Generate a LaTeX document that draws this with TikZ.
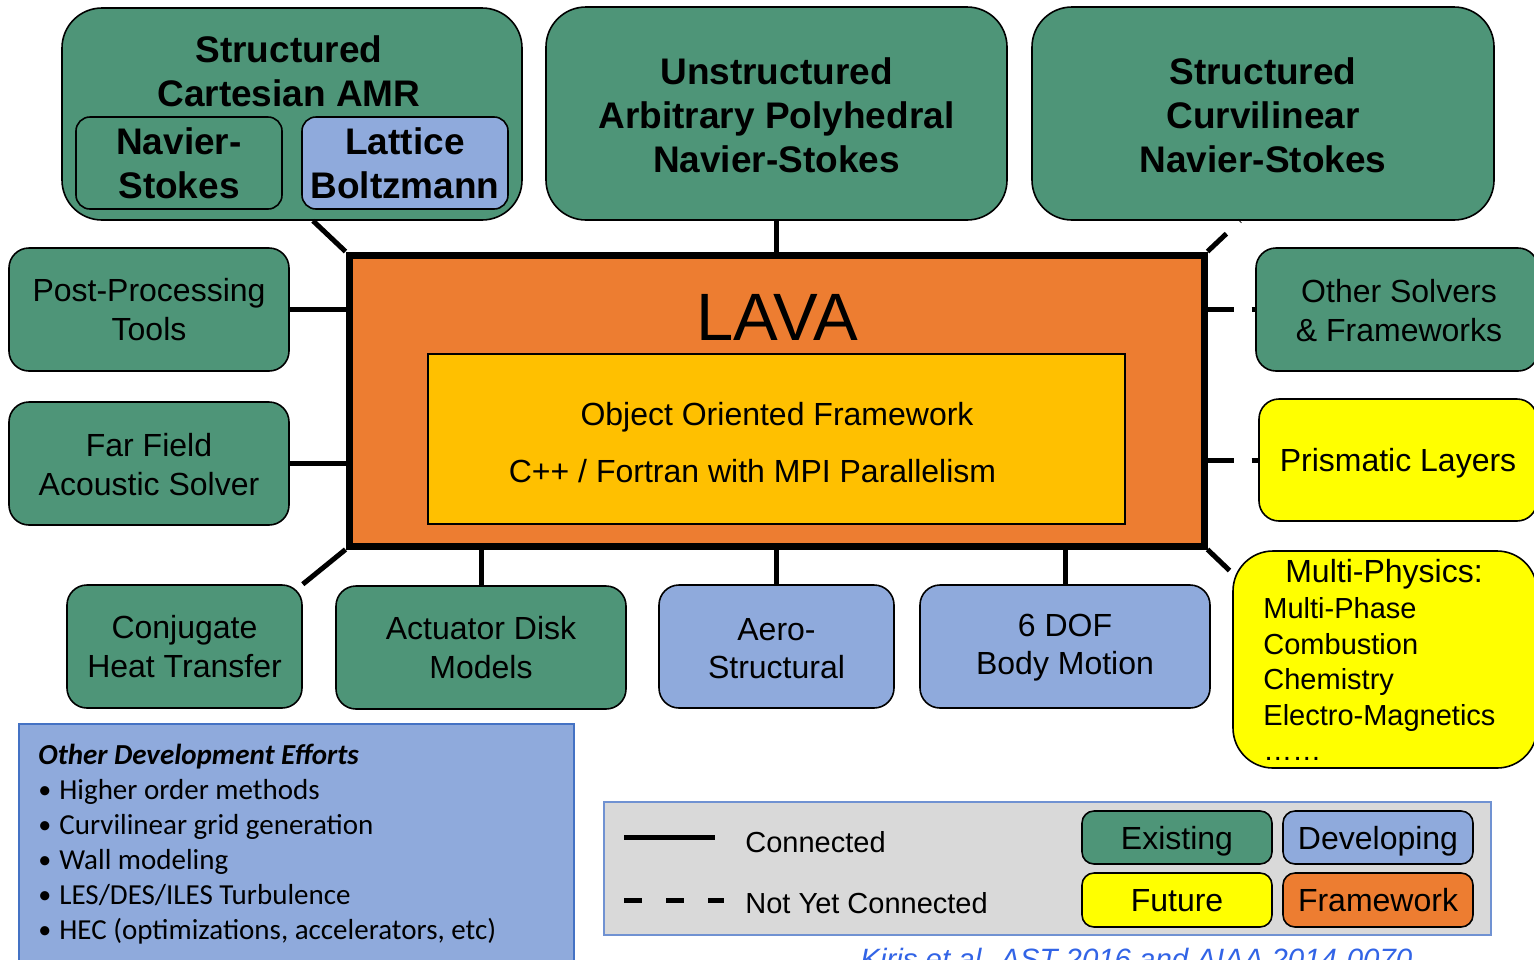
\documentclass[tikz,border=0pt]{standalone}
\usepackage{fontspec}
\setmainfont{Liberation Sans}
\newfontfamily\carlito{Carlito}
\usetikzlibrary{calc}
\definecolor{exgreen}{RGB}{78,149,120}
\definecolor{devblue}{RGB}{143,170,220}
\definecolor{futyellow}{RGB}{255,255,0}
\definecolor{fworange}{RGB}{237,125,49}
\definecolor{fwgold}{RGB}{255,192,0}
\definecolor{legendgrey}{RGB}{217,217,217}
\definecolor{edgeblue}{RGB}{68,114,196}
\definecolor{keyedge}{RGB}{112,146,210}
\definecolor{citeblue}{RGB}{50,100,230}
\begin{document}
\begin{tikzpicture}[x=0.5pt,y=-0.5pt,
  box/.style={draw=black,line width=0.8pt,rounded corners=10pt,align=center,inner sep=0pt,font=\fontsize{16}{19.5}\selectfont},
  exist/.style={box,fill=exgreen},
  devel/.style={box,fill=devblue},
  future/.style={box,fill=futyellow},
  bigbox/.style={box,rounded corners=20pt,font=\bfseries\fontsize{18.5}{22}\selectfont},
  sidebox/.style={minimum width=140pt,minimum height=61.5pt},
  lowbox/.style={minimum height=61.5pt},
  keybox/.style={rounded corners=6pt,minimum width=95pt,minimum height=26.5pt,text depth=0pt},
  link/.style={line width=2.5pt},
  notyet/.style={link,dash pattern=on 13pt off 9pt},
  plain/.style={inner sep=0pt,font=\fontsize{14.5}{17.5}\selectfont}]
\useasboundingbox (0,0) rectangle (1534,959);

% solvers on top
\node[exist,bigbox,minimum width=230pt,minimum height=106pt] (cartamr) at (292,114) {};
\node[inner sep=0pt,align=center,font=\bfseries\fontsize{18.5}{22}\selectfont] (cartamrtitle) at (289,71) {Structured\\Cartesian AMR};
\node[exist,font=\bfseries\fontsize{18.5}{22}\selectfont,rounded corners=7pt,minimum width=103pt,minimum height=46pt] (navier) at (179,163) {Navier-\\Stokes};
\node[devel,font=\bfseries\fontsize{18.5}{22}\selectfont,rounded corners=7pt,minimum width=103pt,minimum height=46pt] (lattice) at (405,163) {Lattice\\Boltzmann};
\node[exist,bigbox,minimum width=230.5pt,minimum height=106.5pt] (unstruct) at (776.5,113.5) {};
\node[inner sep=0pt,align=center,font=\bfseries\fontsize{18.5}{22}\selectfont] (unstructtext) at (776.5,115.5) {Unstructured\\Arbitrary Polyhedral\\Navier-Stokes};
\node[exist,bigbox,minimum width=231pt,minimum height=106.5pt] (curvi) at (1263,113.5) {};
\node[inner sep=0pt,align=center,font=\bfseries\fontsize{18.5}{22}\selectfont] (curvitext) at (1263,115.5) {Structured\\Curvilinear\\Navier-Stokes};

% framework
\node[draw=black,line width=3.5pt,fill=fworange,minimum width=427.5pt,minimum height=145.5pt] (lava) at (776.5,400.5) {};
\node[inner sep=0pt,font=\fontsize{33.5}{33.5}\selectfont] (lavatitle) at (777,317) {LAVA};
\node[draw=black,line width=0.8pt,fill=fwgold,minimum width=348.5pt,minimum height=85pt] (oof) at (776.5,439) {};
\node[plain,font=\fontsize{16}{19.5}\selectfont] (oofline) at (777,417) {Object Oriented Framework};
\node[plain,font=\fontsize{16}{19.5}\selectfont] (langline) at (752.5,471) {C++ / Fortran with MPI Parallelism};

% modules round it
\node[exist,sidebox] (postproc) at (149,309.5) {Post-Processing\\Tools};
\node[exist,sidebox] (farfield) at (149,463.5) {};
\node[plain,align=center,font=\fontsize{16}{19.5}\selectfont] (farfieldtext) at (149,465) {Far Field\\Acoustic Solver};
\node[exist,lowbox,minimum width=117.5pt] (conjugate) at (184.5,646.5) {Conjugate\\Heat Transfer};
\node[exist,lowbox,minimum width=145pt] (actuator) at (481,647.5) {Actuator Disk\\Models};
\node[devel,lowbox,minimum width=117.5pt] (aerostruct) at (776.5,646.5) {};
\node[plain,align=center,font=\fontsize{16}{19}\selectfont] (aerotext) at (776.5,649) {Aero-\\Structural};
\node[devel,lowbox,minimum width=145pt] (sixdof) at (1065,646.5) {};
\node[plain,align=center,font=\fontsize{16}{19}\selectfont] (sixdoftext) at (1065,648) {6 DOF\\Body Motion};
\node[exist,minimum width=141pt,minimum height=61.5pt] (othersolv) at (1397,309.5) {};
\node[plain,align=center,font=\fontsize{16}{19.5}\selectfont] (othersolvtext) at (1399,310.5) {Other Solvers\\\& Frameworks};
\node[future,minimum width=139pt,minimum height=61pt,text depth=0pt] (prismatic) at (1398,460) {Prismatic Layers};
\node[future,rounded corners=20pt,minimum width=152pt,minimum height=108.5pt] (multiphys) at (1385,659.5) {};
\node[inner sep=0pt,font=\fontsize{16}{19.5}\selectfont] (multiphystitle) at (1384,574) {Multi-Physics:};
\foreach \topic [count=\i] in {Multi-Phase,Combustion,Chemistry,Electro-Magnetics,……}
  \node[plain,anchor=base west] (physics\i) at (1263,583+35.5*\i) {\topic};

% connectors
\draw[link] ($(cartamr.south)+(21,0)$) -- (lava.north west);
\draw[link] (unstruct.south) -- (unstruct.south |- lava.north);
\draw[notyet] (lava.north east) -- ($(curvi.south)+(-23,0)$);
\draw[link] (postproc.east) -- (postproc.east -| lava.west);
\draw[link] (farfield.east) -- (farfield.east -| lava.west);
\draw[link] (lava.south west) -- (conjugate.north east);
\draw[link] (actuator.north) -- (actuator.north |- lava.south);
\draw[link] (aerostruct.north) -- (aerostruct.north |- lava.south);
\draw[link] (sixdof.north) -- (sixdof.north |- lava.south);
\draw[notyet] (othersolv.west -| lava.east) -- (othersolv.west);
\draw[notyet] (prismatic.west -| lava.east) -- (prismatic.west);
\coordinate (multitip) at ($(lava.south east)+(22,21)$);
\draw[link] (lava.south east) -- (multitip);

% other development efforts
\node[draw=edgeblue,line width=1pt,fill=devblue,minimum width=277.5pt,minimum height=130pt,anchor=north west,inner sep=0pt] (otherdev) at (18,723) {};
\node[anchor=base west,inner sep=0pt,font=\carlito\bfseries\itshape\fontsize{14.5}{17.5}\selectfont] (otherdevtitle) at (38,764) {Other Development Efforts};
\foreach \topic [count=\i] in {Higher order methods,Curvilinear grid generation,Wall modeling,LES/DES/ILES Turbulence,{HEC (optimizations, accelerators, etc)}}{
  \node[anchor=base west,inner sep=0pt,font=\carlito\fontsize{13}{17.5}\selectfont] (dot\i) at (38,763+35*\i) {\textbullet};
  \node[anchor=base west,inner sep=0pt,font=\carlito\fontsize{14.5}{17.5}\selectfont] (effort\i) at (59,764+35*\i) {\topic};
}

% legend
\node[draw=keyedge,line width=1pt,fill=legendgrey,minimum width=443.5pt,minimum height=66.5pt] (legend) at (1047.5,868.5) {};
\coordinate (solidA) at (624,837);
\coordinate (solidB) at (715,837);
\draw[link] (solidA) -- (solidB);
\coordinate (dashA) at (624,900);
\coordinate (dashB) at (724,900);
\draw[link,dash pattern=on 9pt off 12pt] (dashA) -- (dashB);
\node[plain,anchor=west] (conntext) at (745,842) {Connected};
\node[plain,anchor=west] (notyettext) at (745,903) {Not Yet Connected};
\node[exist,keybox] (keyexist) at (1177,837.5) {Existing};
\node[devel,keybox] (keydevel) at (1378,837.5) {Developing};
\node[future,keybox,minimum height=27pt] (keyfuture) at (1177,900) {Future};
\node[box,fill=fworange,keybox,minimum height=27pt] (keyframe) at (1378,900) {Framework};

\node[anchor=base west,inner sep=0pt,text=citeblue,font=\itshape\fontsize{14.7}{17}\selectfont] (cite) at (860,969) {Kiris et al. AST 2016 and AIAA 2014-0070};
\end{tikzpicture}
\end{document}
